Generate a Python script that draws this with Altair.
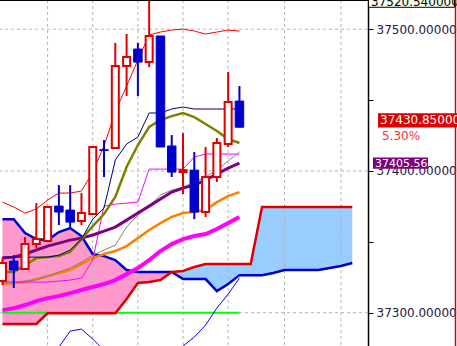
import altair as alt
import pandas as pd

# ---------------- data ----------------
bars = list(range(-1, 21))          # candle index, 0 = first full candle
cloud_bars = list(range(-1, 31))    # ichimoku cloud runs further right

opens  = [37322.3, 37336.4, 37330.8, 37348.4, 37350.5, 37375.2, 37372.4, 37364.6, 37369.6, 37415.0, 37416.2,
          37474.0, 37486.0, 37476.8, 37495.2, 37417.6, 37399.2, 37400.6, 37371.0, 37395.7, 37419.0, 37449.3]
highs  = [37338.5, 37340.6, 37353.4, 37377.3, 37374.5, 37390.0, 37390.0, 37384.4, 37416.9, 37421.8, 37490.3,
          37496.6, 37490.3, 37520.54, 37495.2, 37425.3, 37426.7, 37413.3, 37416.9, 37423.2, 37469.8, 37459.9]
lows   = [37319.5, 37317.4, 37330.8, 37345.6, 37350.5, 37361.8, 37360.4, 37361.8, 37369.6, 37395.7, 37416.2,
          37452.9, 37452.9, 37473.3, 37416.9, 37395.7, 37383.7, 37366.0, 37367.5, 37392.2, 37416.9, 37430.85]
closes = [37335.0, 37330.1, 37348.4, 37351.9, 37374.5, 37371.0, 37363.9, 37370.3, 37416.9, 37414.4, 37474.0,
          37480.4, 37476.8, 37495.2, 37416.9, 37399.2, 37400.6, 37371.0, 37395.7, 37419.7, 37448.6, 37430.85]

bb_upper = [37378.0, 37374.5, 37370.3, 37373.1, 37379.5, 37384.4, 37384.4, 37385.8, 37399.2, 37417.6, 37441.6,
            37459.9, 37478.3, 37495.9, 37498.0, 37499.4, 37500.1, 37498.7, 37496.6, 37498.0, 37499.4, 37498.7]
bb_lower = [37258.1, 37258.1, 37259.5, 37260.9, 37263.0, 37275.7, 37287.0, 37288.4, 37281.4, 37273.6, 37266.5,
            37258.1, 37252.4, 37251.0, 37255.3, 37265.1, 37276.4, 37282.8, 37291.3, 37303.2, 37313.1, 37324.4]
tenkan   = [37339.2, 37339.2, 37339.2, 37339.2, 37339.2, 37340.6, 37344.2, 37351.9, 37366.0, 37373.8, 37407.7,
            37419.0, 37423.9, 37440.9, 37440.9, 37443.7, 37445.1, 37443.7, 37443.7, 37443.7, 37443.7, 37443.7]
kijun    = [37328.7, 37328.7, 37333.6, 37338.5, 37339.2, 37339.9, 37342.8, 37351.9, 37361.1, 37369.6, 37381.6,
            37402.8, 37418.3, 37431.0, 37435.9, 37438.7, 37440.9, 37438.0, 37433.1, 37428.2, 37422.5, 37419.7]
ma_purple = [37338.5, 37339.2, 37341.4, 37344.2, 37347.0, 37349.1, 37351.2, 37352.6, 37354.8, 37357.6, 37360.4,
             37365.3, 37370.3, 37375.2, 37380.2, 37385.1, 37387.9, 37390.0, 37393.6, 37397.8, 37402.0, 37405.56]
ma_gray  = [37320.9, 37321.6, 37322.3, 37323.0, 37325.8, 37328.7, 37331.5, 37335.7, 37340.6, 37344.2, 37347.7,
            37360.4, 37368.9, 37375.2, 37383.0, 37386.5, 37388.6, 37392.2, 37395.7, 37400.6, 37407.0, 37413.3]
step_magenta = [37321.6, 37321.6, 37321.6, 37321.6, 37321.6, 37322.3, 37323.0, 37324.4, 37337.1, 37375.2, 37376.6,
                37377.3, 37378.0, 37401.3, 37401.3, 37401.3, 37401.3, 37409.8, 37411.9, 37411.9, 37411.9, 37411.9]
ma_orange = [37320.2, 37320.9, 37321.6, 37323.7, 37325.8, 37327.9, 37330.1, 37334.3, 37338.5, 37341.4, 37343.5,
             37347.0, 37352.6, 37358.3, 37363.2, 37367.5, 37370.3, 37371.0, 37372.4, 37378.0, 37382.3, 37385.1]
ma_magenta = [37301.8, 37303.2, 37305.4, 37308.2, 37310.3, 37311.7, 37313.8, 37316.0, 37318.1, 37320.2, 37323.0,
              37327.2, 37331.5, 37337.1, 37343.5, 37348.4, 37351.9, 37354.1, 37355.5, 37359.0, 37363.2, 37367.5]
support_level = 37300.0

span_a = [37366.0, 37366.0, 37356.2, 37351.9, 37351.2, 37356.9, 37359.7, 37354.1, 37341.4, 37339.9, 37337.1,
          37330.1, 37328.7, 37328.7, 37328.7, 37328.7, 37323.7, 37323.7, 37323.7, 37315.2, 37320.2, 37326.5,
          37326.5, 37326.5, 37328.0, 37330.1, 37330.1, 37330.1, 37330.1, 37331.5, 37332.9, 37335.0]
span_b = [37292.0, 37292.0, 37292.0, 37292.0, 37299.6, 37299.6, 37299.6, 37299.6, 37299.6, 37299.6, 37299.6,
          37309.6, 37320.9, 37321.6, 37323.0, 37328.7, 37329.4, 37332.2, 37334.3, 37334.3, 37334.3, 37334.3,
          37334.3, 37374.5, 37374.5, 37374.5, 37374.5, 37374.5, 37374.5, 37374.5, 37374.5, 37374.5]

grid_bars = [3, 7, 11, 15, 19, 24, 29]
grid_prices = [37300, 37400, 37500]
axis_ticks = [37300, 37350, 37400, 37450, 37500]
top_price = 37520.54
last_close = 37430.85
change_text = "5.30%"

# ---------------- tables ----------------
candles = pd.DataFrame({"i": bars, "open": opens, "high": highs, "low": lows, "close": closes})
candles["dir"] = ["up" if c >= o else "down" for o, c in zip(opens, closes)]
candles["blo"] = candles[["open", "close"]].min(axis=1)
candles["bhi"] = candles[["open", "close"]].max(axis=1)

ind = pd.DataFrame({"i": bars, "bbu": bb_upper, "bbl": bb_lower, "tenkan": tenkan, "kijun": kijun,
                    "purple": ma_purple, "gray": ma_gray, "step": step_magenta, "orange": ma_orange,
                    "magenta": ma_magenta})
ind["support"] = support_level

cloud = pd.DataFrame({"i": cloud_bars, "a": span_a, "b": span_b})

RED = "#e00000"
BLUE = "#0000cc"
W, H = 368, 346
PX = 346 / (37520.6 - 37276.5)   # pixels per price unit

xs = alt.Scale(domain=[-0.776, 30.95], nice=False, zero=False)
ys = alt.Scale(domain=[37276.5, 37520.6], nice=False, zero=False)
yaxis = alt.Axis(orient="right", values=axis_ticks, title=None, grid=False,
                 labelExpr="datum.value % 100 == 0 ? format(datum.value, '.6f') : ''",
                 tickSize=5, tickColor="black", tickWidth=1, domainColor="black", domainWidth=1.5,
                 labelFont="DejaVu Sans", labelFontSize=12, labelColor="#202040", labelPadding=3,
                 labelOverlap=False, labelBound=False)


def X(f="i"):
    return alt.X(f, type="quantitative", scale=xs, axis=None)


def Y(f):
    return alt.Y(f, type="quantitative", scale=ys, axis=yaxis)


fill_pink = alt.Chart(cloud[cloud.i <= 14]).mark_area(color="#ff99cc", opacity=1, clip=True, orient="vertical").encode(
    x=X(), y=Y("a"), y2="b")
fill_blue = alt.Chart(cloud[cloud.i >= 14]).mark_area(color="#99ccff", opacity=1, clip=True, orient="vertical").encode(
    x=X(), y=Y("b"), y2="a")

vgrid = alt.Chart(pd.DataFrame({"g": grid_bars})).mark_rule(color="#b4b4b4", strokeDash=[3, 3], strokeWidth=1).encode(
    x=X("g"))
hgrid = alt.Chart(pd.DataFrame({"p": grid_prices})).mark_rule(color="#b4b4b4", strokeDash=[3, 3], strokeWidth=1).encode(
    y=Y("p"))


def line(field, color, w):
    return alt.Chart(ind).mark_line(color=color, strokeWidth=w, clip=True).encode(x=X(), y=Y(field))


support = line("support", "#00ff00", 2)
cloud_a = alt.Chart(cloud).mark_line(color=BLUE, strokeWidth=2.5, clip=True).encode(x=X(), y=Y("a"))
cloud_b = alt.Chart(cloud).mark_line(color="#dd0000", strokeWidth=2.5, clip=True).encode(x=X(), y=Y("b"))

lines = [
    line("magenta", "#ff00ff", 4),
    line("orange", "#ff7f00", 2.5),
    line("step", "#ff00ff", 1),
    line("gray", "#808080", 1),
    line("purple", "#800080", 3),
    line("kijun", "#808000", 2.5),
    line("tenkan", "#000080", 1),
    line("bbu", "#ff0000", 1),
    line("bbl", "#0000ff", 1),
]

wicks = alt.Chart(candles).mark_rule(strokeWidth=2, clip=True).encode(
    x=X(), y=Y("low"), y2="high",
    color=alt.Color("dir:N", scale=alt.Scale(domain=["up", "down"], range=[RED, BLUE]), legend=None))
body_up = alt.Chart(candles).transform_filter("datum.dir == 'up'").mark_bar(
    width=7, fill="white", stroke=RED, strokeWidth=2, clip=True).encode(x=X(), y=Y("blo"), y2="bhi")
body_dn = alt.Chart(candles).transform_filter("datum.dir == 'down'").mark_bar(
    width=8.5, fill=BLUE, stroke=BLUE, strokeWidth=1, clip=True).encode(x=X(), y=Y("blo"), y2="bhi")

one = pd.DataFrame({"k": [0]})
top_line = alt.Chart(one).mark_rule(color="black", strokeWidth=1).encode(
    x=alt.value(0), x2=alt.value(W), y=alt.value(0.5))
right_line = alt.Chart(one).mark_rule(color=RED, strokeWidth=1.5).encode(
    x=alt.value(455.5), y=alt.value(0), y2=alt.value(H))

# price labels on the axis
top_df = pd.DataFrame({"p": [top_price], "t": [f"{top_price:.6f}"]})
top_box = alt.Chart(top_df).transform_calculate(
    lo=f"datum.p - {7.2 / PX}", hi=f"datum.p + {7.2 / PX}").mark_rect(
    fill="#ffffee", stroke="black", strokeWidth=1).encode(
    x=alt.value(368.5), x2=alt.value(454.5), y=Y("lo:Q"), y2="hi:Q")
top_txt = alt.Chart(top_df).mark_text(align="left", baseline="middle", font="DejaVu Sans", fontSize=12,
                                      color="black", dy=2).encode(x=alt.value(371), y=Y("p"), text="t:N")

close_df = pd.DataFrame({"p": [last_close], "t": [f"{last_close:.6f}"], "c": [change_text]})
close_box = alt.Chart(close_df).transform_calculate(
    lo=f"datum.p - {0.2 / PX}", hi=f"datum.p + {14 / PX}").mark_rect(fill="#dd0000").encode(
    x=alt.value(378), x2=alt.value(457), y=Y("lo:Q"), y2="hi:Q")
close_txt = alt.Chart(close_df).mark_text(align="left", baseline="middle", font="DejaVu Sans", fontSize=12,
                                          color="white", dy=-7).encode(x=alt.value(380), y=Y("p"), text="t:N")
change_txt = alt.Chart(close_df).mark_text(align="left", baseline="middle", font="DejaVu Sans", fontSize=12,
                                           color="#ff3030", dy=9).encode(x=alt.value(382), y=Y("p"), text="c:N")

ma_df = pd.DataFrame({"p": [ma_purple[-1]], "t": [f"{ma_purple[-1]:.2f}"]})
ma_box = alt.Chart(ma_df).transform_calculate(
    lo=f"datum.p - {5.6 / PX}", hi=f"datum.p + {5.6 / PX}").mark_rect(fill="#800080").encode(
    x=alt.value(373), x2=alt.value(428), y=Y("lo:Q"), y2="hi:Q")
ma_txt = alt.Chart(ma_df).mark_text(align="left", baseline="middle", font="DejaVu Sans", fontSize=11,
                                    color="white", dy=0.5).encode(x=alt.value(375), y=Y("p"), text="t:N")

chart = alt.layer(
    fill_pink, fill_blue, vgrid, hgrid, support, cloud_a, cloud_b, *lines,
    wicks, body_up, body_dn, top_line, right_line,
    top_box, top_txt, close_box, close_txt, change_txt, ma_box, ma_txt
).properties(
    width=W, height=H,
    autosize=alt.AutoSizeParams(type="none"),
    padding={"left": 0, "top": 0, "right": 89, "bottom": 0},
    background="white",
).configure_view(stroke=None)

chart.save("out.html", embed_options={"renderer": "svg", "actions": False})
